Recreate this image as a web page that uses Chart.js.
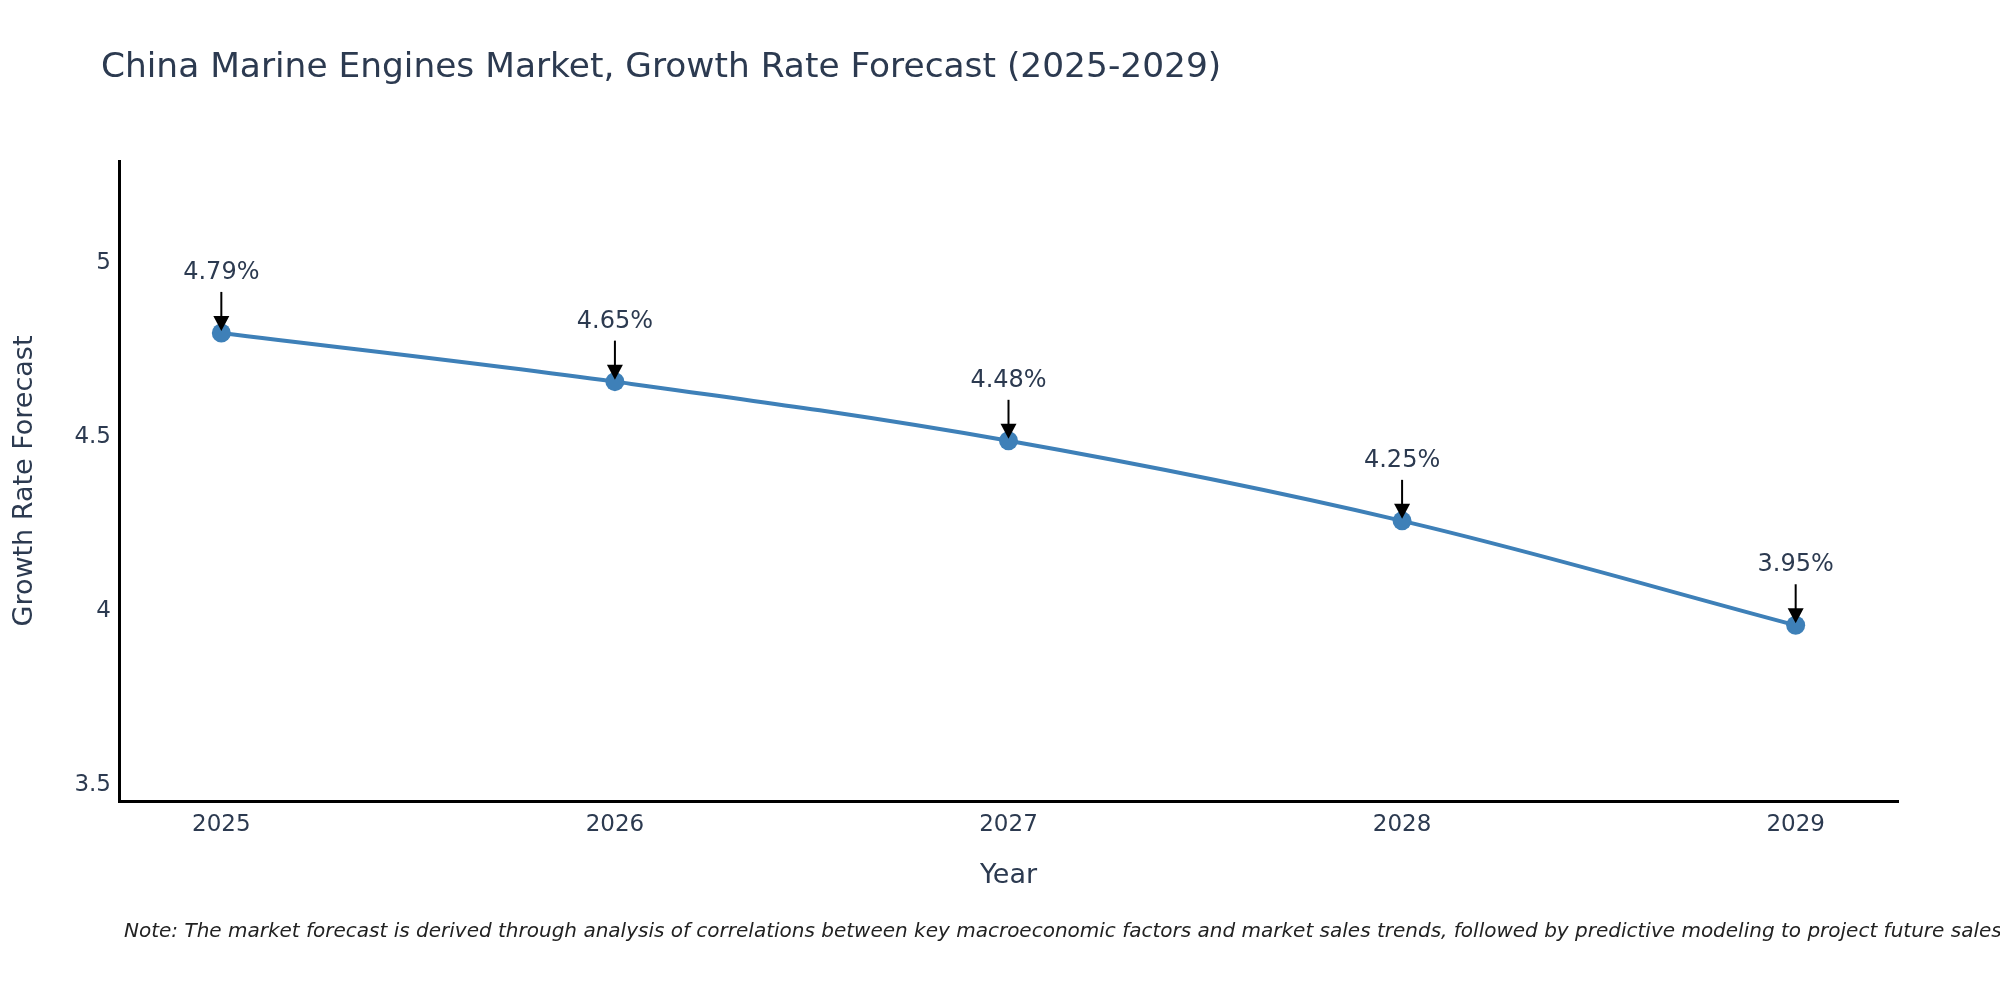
<!DOCTYPE html>
<html>
<head>
<meta charset="utf-8">
<title>China Marine Engines Market, Growth Rate Forecast (2025-2029)</title>
<script src="https://cdn.jsdelivr.net/npm/chart.js@4.4.1/dist/chart.umd.min.js"></script>
<style>
  html, body { margin: 0; padding: 0; background: #fff; }
  #wrap { width: 2000px; height: 1000px; position: relative; }
</style>
</head>
<body>
<div id="wrap"><canvas id="growth_chart"></canvas></div>
<script>
// chart data
const years = [2025, 2026, 2027, 2028, 2029]
const growth_rates = [4.79, 4.65, 4.48, 4.25, 3.95]
const point_labels = ["4.79%", "4.65%", "4.48%", "4.25%", "3.95%"]

const title_text = "China Marine Engines Market, Growth Rate Forecast (2025-2029)"
const note_text = "Note: The market forecast is derived through analysis of correlations between key macroeconomic factors and market sales trends, followed by predictive modeling to project future sales."

const text_color = "#2c3a50"
const line_color = "rgb(62,128,184)"
const font_family = "'DejaVu Sans', Verdana, sans-serif"

// title, note and the arrow labels over each point
const annotations_plugin = {
  id: "annotations_plugin",
  afterDatasetsDraw(chart) {
    const ctx = chart.ctx
    const meta = chart.getDatasetMeta(0)
    ctx.save()
    meta.data.forEach((pt, i) => {
      const x = pt.x
      const y = pt.y
      // arrow shaft
      ctx.strokeStyle = "#000"
      ctx.lineWidth = 2
      ctx.beginPath()
      ctx.moveTo(x, y - 41)
      ctx.lineTo(x, y - 14)
      ctx.stroke()
      // arrow head
      ctx.fillStyle = "#000"
      ctx.beginPath()
      ctx.moveTo(x - 8, y - 17)
      ctx.lineTo(x + 8, y - 17)
      ctx.lineTo(x, y - 2)
      ctx.closePath()
      ctx.fill()
      // label
      ctx.fillStyle = text_color
      ctx.font = "24px " + font_family
      ctx.textAlign = "center"
      ctx.textBaseline = "middle"
      ctx.fillText(point_labels[i], x, y - 60)
    })
    ctx.restore()
  },
  afterDraw(chart) {
    const ctx = chart.ctx
    ctx.save()
    ctx.fillStyle = text_color
    ctx.textAlign = "left"
    ctx.textBaseline = "alphabetic"
    ctx.font = "34.4px " + font_family
    ctx.fillText(title_text, 101, 77)
    ctx.fillStyle = "#222"
    ctx.font = "italic 20px " + font_family
    ctx.textBaseline = "middle"
    ctx.fillText(note_text, 124, 932)
    ctx.restore()
  }
}

const growth_data = {
  datasets: [{
    label: "Growth Rate Forecast",
    data: years.map((yr, i) => ({ x: yr, y: growth_rates[i] })),
    borderColor: line_color,
    backgroundColor: line_color,
    borderWidth: 4,
    pointRadius: 9.5,
    pointHoverRadius: 9.5,
    pointBorderWidth: 0,
    tension: 0.35,
    fill: false
  }]
}

const growth_config = {
  type: "line",
  data: growth_data,
  plugins: [annotations_plugin],
  options: {
    responsive: true,
    maintainAspectRatio: false,
    devicePixelRatio: 1,
    animation: false,
    layout: { padding: { left: 0, top: 161, right: 102, bottom: 0 } },
    plugins: {
      legend: { display: false },
      tooltip: { enabled: false }
    },
    scales: {
      x: {
        type: "linear",
        min: 2024.74,
        max: 2029.26,
        grid: { display: false, drawTicks: false },
        border: { display: true, color: "#000", width: 3 },
        ticks: {
          stepSize: 1,
          includeBounds: false,
          padding: 10,
          color: text_color,
          font: { family: font_family, size: 23 },
          callback: v => String(v)
        },
        title: {
          display: true,
          text: "Year",
          color: text_color,
          font: { family: font_family, size: 27 },
          padding: { top: 0, bottom: 108 }
        },
        afterFit: s => { s.height = 199 }
      },
      y: {
        min: 3.445,
        max: 5.284,
        grid: { display: false, drawTicks: false },
        border: { display: true, color: "#000", width: 3 },
        ticks: {
          stepSize: 0.5,
          includeBounds: false,
          padding: 8,
          labelOffset: 3,
          color: text_color,
          font: { family: font_family, size: 23 },
          callback: v => String(v)
        },
        title: {
          display: true,
          text: "Growth Rate Forecast",
          color: text_color,
          font: { family: font_family, size: 27 },
          padding: { top: 9, bottom: 0 }
        },
        afterFit: s => { s.width = 119 }
      }
    }
  }
}

const growthChart = new Chart(document.getElementById("growth_chart"), growth_config)
</script>
</body>
</html>
